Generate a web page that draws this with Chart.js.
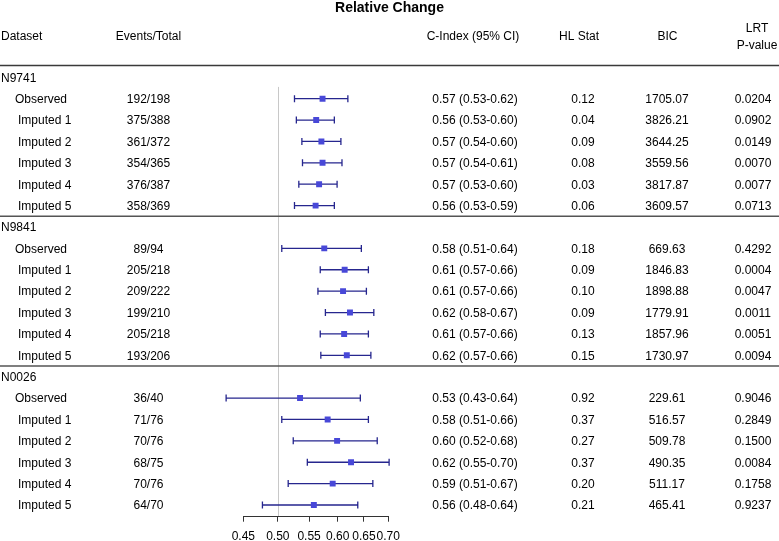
<!DOCTYPE html>
<html>
<head>
<meta charset="utf-8">
<script src="https://cdn.jsdelivr.net/npm/chart.js@4/dist/chart.umd.min.js"></script>
<style>
  html, body { margin: 0; padding: 0; background: #fff; }
  #wrap { width: 779px; height: 541px; }
</style>
</head>
<body>
<div id="wrap"><canvas id="c" width="779" height="541"></canvas></div>
<script>
// ---------------- data ----------------
const groups = ['N9741', 'N9841', 'N0026'];
const subLabels = ['Observed', 'Imputed 1', 'Imputed 2', 'Imputed 3', 'Imputed 4', 'Imputed 5'];

const eventsTotal = [
  '192/198', '375/388', '361/372', '354/365', '376/387', '358/369',
  '89/94', '205/218', '209/222', '199/210', '205/218', '193/206',
  '36/40', '71/76', '70/76', '68/75', '70/76', '64/70'
];

// C-index as printed in the table
const ciText = [
  '0.57 (0.53-0.62)', '0.56 (0.53-0.60)', '0.57 (0.54-0.60)', '0.57 (0.54-0.61)', '0.57 (0.53-0.60)', '0.56 (0.53-0.59)',
  '0.58 (0.51-0.64)', '0.61 (0.57-0.66)', '0.61 (0.57-0.66)', '0.62 (0.58-0.67)', '0.61 (0.57-0.66)', '0.62 (0.57-0.66)',
  '0.53 (0.43-0.64)', '0.58 (0.51-0.66)', '0.60 (0.52-0.68)', '0.62 (0.55-0.70)', '0.59 (0.51-0.67)', '0.56 (0.48-0.64)'
];

// C-index estimates and CI bounds as drawn in the forest plot
const cEst = [
  0.573, 0.562, 0.571, 0.573, 0.567, 0.561,
  0.576, 0.613, 0.610, 0.623, 0.612, 0.617,
  0.535, 0.582, 0.599, 0.625, 0.591, 0.558
];
const cLow = [
  0.526, 0.529, 0.538, 0.539, 0.533, 0.526,
  0.506, 0.569, 0.565, 0.578, 0.569, 0.570,
  0.427, 0.506, 0.524, 0.547, 0.516, 0.477
];
const cHigh = [
  0.619, 0.594, 0.606, 0.608, 0.599, 0.594,
  0.645, 0.659, 0.655, 0.670, 0.659, 0.664,
  0.643, 0.659, 0.677, 0.702, 0.668, 0.638
];

const hlStat = [
  0.12, 0.04, 0.09, 0.08, 0.03, 0.06,
  0.18, 0.09, 0.10, 0.09, 0.13, 0.15,
  0.92, 0.37, 0.27, 0.37, 0.20, 0.21
];
const bic = [
  1705.07, 3826.21, 3644.25, 3559.56, 3817.87, 3609.57,
  669.63, 1846.83, 1898.88, 1779.91, 1857.96, 1730.97,
  229.61, 516.57, 509.78, 490.35, 511.17, 465.41
];
const lrtP = [
  0.0204, 0.0902, 0.0149, 0.0070, 0.0077, 0.0713,
  0.4292, 0.0004, 0.0047, 0.0011, 0.0051, 0.0094,
  0.9046, 0.2849, 0.1500, 0.0084, 0.1758, 0.9237
];

const xTicks = [0.45, 0.50, 0.55, 0.60, 0.65, 0.70];
const refValue = 0.5;
const title = 'Relative Change';

// ---------------- layout helpers ----------------
const perGroup = subLabels.length + 1;
const totalRows = groups.length * perGroup;
function rowOf(g, i) { return g * perGroup + 1 + i; }

const points = [];
for (let g = 0; g < groups.length; g++) {
  for (let i = 0; i < subLabels.length; i++) {
    const k = g * subLabels.length + i;
    points.push({ x: cEst[k], y: rowOf(g, i) });
  }
}

const FONT = '"Liberation Sans", Arial, sans-serif';
const col = {
  dataset: 1, events: 148.5, ci: 475, hl: 583, bic: 667, lrt: 753,
  hCi: 473, hHl: 579, hBic: 667.5, hLrt: 757
};
const textDy = 1;

const tablePlugin = {
  id: 'forestTable',
  beforeDatasetsDraw(chart) {
    const ctx = chart.ctx, xs = chart.scales.x, ys = chart.scales.y, ca = chart.chartArea;
    ctx.save();
    // reference line
    const rx = Math.round(xs.getPixelForValue(refValue)) + 0.5;
    ctx.strokeStyle = '#c8c8c8';
    ctx.lineWidth = 1;
    ctx.beginPath();
    ctx.moveTo(rx, ys.getPixelForValue(0.45));
    ctx.lineTo(rx, ca.bottom + 1);
    ctx.stroke();
    // whiskers
    ctx.strokeStyle = '#26268e';
    ctx.lineWidth = 1.3;
    for (let g = 0; g < groups.length; g++) {
      for (let i = 0; i < subLabels.length; i++) {
        const k = g * subLabels.length + i;
        const y = ys.getPixelForValue(rowOf(g, i));
        const x1 = xs.getPixelForValue(cLow[k]);
        const x2 = xs.getPixelForValue(cHigh[k]);
        ctx.beginPath();
        ctx.moveTo(x1, y); ctx.lineTo(x2, y);
        ctx.moveTo(x1, y - 3.5); ctx.lineTo(x1, y + 3.5);
        ctx.moveTo(x2, y - 3.5); ctx.lineTo(x2, y + 3.5);
        ctx.stroke();
      }
    }
    ctx.restore();
  },
  afterDraw(chart) {
    const ctx = chart.ctx, xs = chart.scales.x, ys = chart.scales.y, ca = chart.chartArea;
    const W = chart.width;
    ctx.save();
    // title
    ctx.fillStyle = '#000';
    ctx.textBaseline = 'middle';
    ctx.textAlign = 'center';
    ctx.font = 'bold 14px ' + FONT;
    ctx.fillText(title, W / 2, 8);
    // headers
    ctx.font = '12px ' + FONT;
    ctx.textAlign = 'left';
    ctx.fillText('Dataset', col.dataset, 37);
    ctx.textAlign = 'center';
    ctx.fillText('Events/Total', col.events, 37);
    ctx.fillText('C-Index (95% CI)', col.hCi, 37);
    ctx.fillText('HL Stat', col.hHl, 37);
    ctx.fillText('BIC', col.hBic, 37);
    ctx.fillText('LRT', col.hLrt, 28.5);
    ctx.fillText('P-value', col.hLrt, 45.5);

    // header line
    ctx.strokeStyle = '#3a3a3a';
    ctx.lineWidth = 1.6;
    const hy = ys.getPixelForValue(-0.55);
    ctx.beginPath(); ctx.moveTo(0, hy); ctx.lineTo(W, hy); ctx.stroke();
    // separators
    ctx.strokeStyle = '#555';
    for (let g = 1; g < groups.length; g++) {
      const sy = ys.getPixelForValue(g * perGroup - 0.5);
      ctx.beginPath(); ctx.moveTo(0, sy); ctx.lineTo(W, sy); ctx.stroke();
    }

    // rows
    for (let g = 0; g < groups.length; g++) {
      ctx.textAlign = 'left';
      ctx.fillText(groups[g], col.dataset, ys.getPixelForValue(g * perGroup) + textDy);
      for (let i = 0; i < subLabels.length; i++) {
        const k = g * subLabels.length + i;
        const y = ys.getPixelForValue(rowOf(g, i)) + textDy;
        ctx.textAlign = 'left';
        ctx.fillText(subLabels[i], i === 0 ? 15 : 18, y);
        ctx.textAlign = 'center';
        ctx.fillText(eventsTotal[k], col.events, y);
        ctx.fillText(ciText[k], col.ci, y);
        ctx.fillText(hlStat[k].toFixed(2), col.hl, y);
        ctx.fillText(bic[k].toFixed(2), col.bic, y);
        ctx.fillText(lrtP[k].toFixed(4), col.lrt, y);
      }
    }

    // x axis line spanning the tick range
    ctx.strokeStyle = '#333';
    ctx.lineWidth = 1;
    const ay = Math.round(ca.bottom) + 0.5;
    ctx.beginPath();
    ctx.moveTo(xs.getPixelForValue(xTicks[0]), ay);
    ctx.lineTo(xs.getPixelForValue(xTicks[xTicks.length - 1]), ay);
    ctx.stroke();
    ctx.restore();
  }
};

new Chart(document.getElementById('c'), {
  type: 'scatter',
  data: {
    datasets: [{
      data: points,
      pointStyle: 'rect',
      pointRadius: 4.2,
      pointBackgroundColor: '#4848d8',
      pointBorderColor: '#4848d8',
      pointBorderWidth: 0,
      showLine: false
    }]
  },
  options: {
    responsive: false,
    animation: false,
    events: [],
    layout: { padding: { left: 212.8, right: 372.6, top: 66.6, bottom: 0 } },
    plugins: { legend: { display: false }, tooltip: { enabled: false }, title: { display: false } },
    scales: {
      x: {
        type: 'logarithmic',
        min: 0.41,
        max: 0.74,
        afterBuildTicks: (scale) => { scale.ticks = xTicks.map(v => ({ value: v })); },
        afterFit: (scale) => { scale.height = 25.3; },
        border: { display: false },
        grid: { display: true, drawOnChartArea: false, drawTicks: true, tickLength: 6, color: '#333', lineWidth: 1 },
        ticks: {
          autoSkip: false,
          maxRotation: 0,
          padding: 8,
          color: '#000',
          font: { family: FONT, size: 12 },
          callback: (v) => Number(v).toFixed(2)
        }
      },
      y: {
        type: 'linear',
        display: false,
        reverse: true,
        min: -0.5,
        max: totalRows - 0.5
      }
    }
  },
  plugins: [tablePlugin]
});
</script>
</body>
</html>
